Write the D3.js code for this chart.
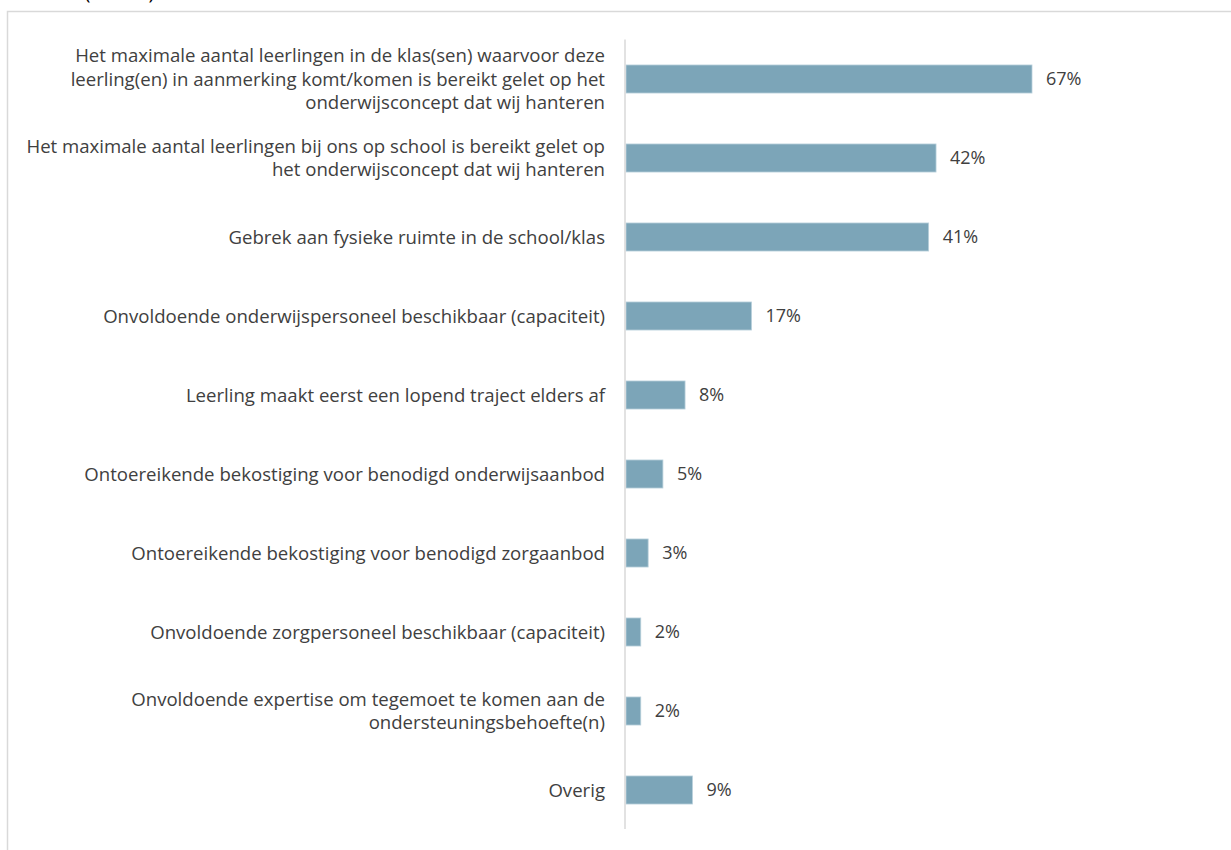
<!DOCTYPE html>
<html>
<head>
<meta charset="utf-8">
<script src="https://cdn.jsdelivr.net/npm/d3@7"></script>
<style>
  body { margin: 0; background: #fff; }
  text { font-family: "Open Sans", sans-serif; }
</style>
</head>
<body>
<script>
// categories (line breaks as in the original labels)
const categories = [
  ["Het maximale aantal leerlingen in de klas(sen) waarvoor deze", "leerling(en) in aanmerking komt/komen is bereikt gelet op het", "onderwijsconcept dat wij hanteren"],
  ["Het maximale aantal leerlingen bij ons op school is bereikt gelet op", "het onderwijsconcept dat wij hanteren"],
  ["Gebrek aan fysieke ruimte in de school/klas"],
  ["Onvoldoende onderwijspersoneel beschikbaar (capaciteit)"],
  ["Leerling maakt eerst een lopend traject elders af"],
  ["Ontoereikende bekostiging voor benodigd onderwijsaanbod"],
  ["Ontoereikende bekostiging voor benodigd zorgaanbod"],
  ["Onvoldoende zorgpersoneel beschikbaar (capaciteit)"],
  ["Onvoldoende expertise om tegemoet te komen aan de", "ondersteuningsbehoefte(n)"],
  ["Overig"]
];
const values = [0.67, 0.42, 0.41, 0.17, 0.08, 0.05, 0.03, 0.02, 0.02, 0.09];
const axisMax = 0.55; // axis maximum; longer bars are cut off at the plot edge

const width = 1231, height = 850;
const svg = d3.select("body").append("svg")
  .attr("width", width)
  .attr("height", height);

// chart frame (only top and left edges visible)
svg.append("rect")
  .attr("x", 7.5).attr("y", 11.5)
  .attr("width", 1240).attr("height", 860)
  .attr("fill", "none")
  .attr("stroke", "#d9d9d9")
  .attr("stroke-width", 1.5);

// title, mostly outside the picture
svg.append("text")
  .attr("x", 6).attr("y", -1)
  .attr("font-size", 20)
  .attr("fill", "#000")
  .text("Scholen (n=136)");

const x = d3.scaleLinear()
  .domain([0, axisMax])
  .range([626, 1032])
  .clamp(true);

const y = d3.scaleBand()
  .domain(d3.range(categories.length))
  .range([39.5, 829.5])
  .paddingInner(0.645)
  .paddingOuter(0.3225);

// bars
svg.selectAll("rect.bar")
  .data(values)
  .enter()
  .append("rect")
  .attr("class", "bar")
  .attr("x", x(0))
  .attr("y", (d, i) => y(i))
  .attr("width", d => x(d) - x(0))
  .attr("height", y.bandwidth())
  .attr("fill", "#7ca5b8")
  .attr("stroke", "#b9d0db")
  .attr("stroke-width", 0.8);

// value labels
svg.selectAll("text.val")
  .data(values)
  .enter()
  .append("text")
  .attr("class", "val")
  .attr("x", d => x(d) + 14)
  .attr("y", (d, i) => y(i) + y.bandwidth() / 2)
  .attr("dy", "0.36em")
  .attr("font-size", 18)
  .attr("fill", "#404040")
  .text(d => d3.format(".0%")(d));

// category labels
const lineH = 23.5;
const lab = svg.selectAll("text.cat")
  .data(categories)
  .enter()
  .append("text")
  .attr("class", "cat")
  .attr("text-anchor", "end")
  .attr("font-size", 18.6)
  .attr("fill", "#404040");

lab.each(function(lines, i) {
  const cy = y(i) + y.bandwidth() / 2;
  const start = cy - (lines.length - 1) * lineH / 2;
  d3.select(this).selectAll("tspan")
    .data(lines)
    .enter()
    .append("tspan")
    .attr("x", 605)
    .attr("y", (d, j) => start + j * lineH)
    .attr("dy", "0.36em")
    .text(d => d);
});

// category axis line
svg.append("line")
  .attr("x1", 625).attr("x2", 625)
  .attr("y1", 39.5).attr("y2", 829)
  .attr("stroke", "#d9d9d9")
  .attr("stroke-width", 1.5);
</script>
</body>
</html>
